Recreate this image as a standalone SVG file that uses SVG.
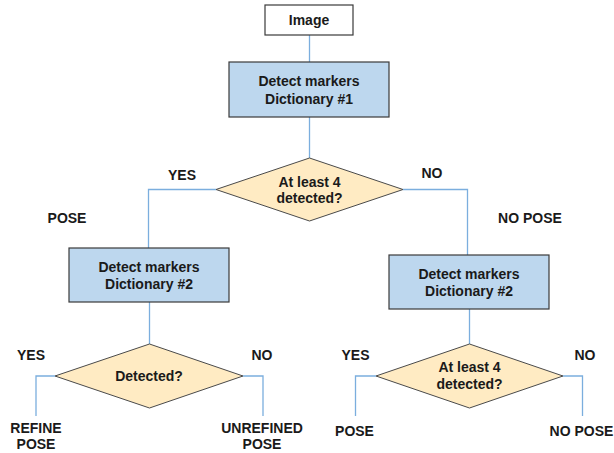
<svg xmlns="http://www.w3.org/2000/svg" width="614" height="453" viewBox="0 0 614 453">
<style>
text{font-family:"Liberation Sans",Arial,sans-serif;font-weight:bold;font-size:14px;fill:#1a1a1a;text-anchor:middle}
.box{fill:#BDD7EE;stroke:#3a3a3a;stroke-width:1.2}
.img{fill:#ffffff;stroke:#3a3a3a;stroke-width:1.2}
.dia{fill:#FFEBC3;stroke:#4a4a4a;stroke-width:1}
.con{fill:none;stroke:#7BAEDE;stroke-width:1.3}
</style>
<rect width="614" height="453" fill="#ffffff"/>
<g id="connectors">
<path class="con" d="M309.5,35 V62"/>
<path class="con" d="M309.5,117 V158"/>
<path class="con" d="M216,189.5 H148.5 V248"/>
<path class="con" d="M403,189.5 H467.5 V255"/>
<path class="con" d="M149.5,302 V344"/>
<path class="con" d="M55,376 H36 V416"/>
<path class="con" d="M243,376 H263 V416"/>
<path class="con" d="M469.5,309 V344"/>
<path class="con" d="M376,376 H355.5 V416"/>
<path class="con" d="M563,376 H582.5 V416"/>
</g>
<g id="image">
<rect class="img" x="265" y="5" width="88" height="30"/>
<text x="309" y="25">Image</text>
</g>
<g id="dict1">
<rect class="box" x="229" y="62" width="160" height="55"/>
<text x="309" y="86">Detect markers</text>
<text x="309" y="104">Dictionary #1</text>
</g>
<g id="decision1">
<polygon class="dia" points="309.5,158 403,189.5 309.5,221 216,189.5"/>
<text x="309.5" y="187">At least 4</text>
<text x="309.5" y="203">detected?</text>
</g>
<g id="dict2left">
<rect class="box" x="69" y="248" width="160" height="54"/>
<text x="149" y="272">Detect markers</text>
<text x="149" y="289">Dictionary #2</text>
</g>
<g id="dict2right">
<rect class="box" x="389" y="255" width="160" height="54"/>
<text x="469" y="279">Detect markers</text>
<text x="469" y="296">Dictionary #2</text>
</g>
<g id="decision2">
<polygon class="dia" points="149.5,344 243,376 149.5,408 55,376"/>
<text x="149" y="381">Detected?</text>
</g>
<g id="decision3">
<polygon class="dia" points="469.5,344 563,376 469.5,408 376,376"/>
<text x="469.5" y="372">At least 4</text>
<text x="469.5" y="389">detected?</text>
</g>
<g id="labels">
<text x="182" y="180">YES</text>
<text x="432" y="178">NO</text>
<text x="67" y="223">POSE</text>
<text x="530" y="223">NO POSE</text>
<text x="31" y="360">YES</text>
<text x="262" y="360">NO</text>
<text x="355.5" y="360">YES</text>
<text x="585" y="360">NO</text>
<text x="36" y="433">REFINE</text>
<text x="36" y="449">POSE</text>
<text x="262" y="433">UNREFINED</text>
<text x="262" y="449">POSE</text>
<text x="354.5" y="436">POSE</text>
<text x="581.5" y="436">NO POSE</text>
</g>
</svg>
